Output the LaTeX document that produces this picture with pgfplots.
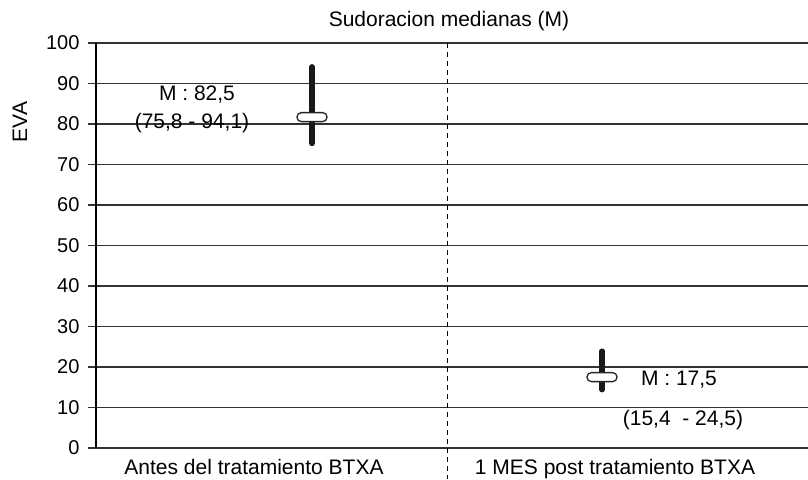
\documentclass[border=0pt]{standalone}
\usepackage{pgfplots}
\pgfplotsset{compat=1.18}
\usepackage{fontspec}
\setmainfont{Liberation Sans}
\begin{document}
\begin{tikzpicture}[font=\fontsize{21}{25}\selectfont]
\begin{axis}[
  at={(0,0)}, anchor=south west,
  scale only axis, width=712pt, height=405pt,
  xmin=0, xmax=712, ymin=0, ymax=100,
  axis y line*=left, axis x line*=bottom,
  x axis line style={draw=none},
  y axis line style={line width=1.3pt, black},
  ytick={0,10,...,100},
  ymajorgrids,
  grid style={draw=black!80, line width=1.2pt},
  tick align=outside,
  major tick length=8pt,
  y tick style={line width=1.2pt, black!80},
  yticklabel style={font=\fontsize{20}{24}\selectfont, xshift=-5pt},
  xtick={158,519},
  xticklabels={Antes del tratamiento BTXA, 1 MES post tratamiento BTXA},
  x tick style={draw=none},
  xticklabel style={anchor=base, yshift=-18pt},
  /pgf/number format/assume math mode=true,
  title={Sudoracion medianas (M)},
  title style={at={(axis description cs:0.4958,1)}, anchor=base, yshift=10pt},
  ylabel={EVA},
  ylabel style={at={(axis description cs:-0.1067,0.805)}, anchor=center},
  clip=false,
]
\addplot[line width=5.5pt, line cap=round, black!90] coordinates {(216,75.2) (216,94.1)};
\addplot[line width=5.5pt, line cap=round, black!90] coordinates {(506,14.4) (506,23.9)};
\addplot[only marks, mark=none,
  nodes near coords={},
  every node near coord/.style={anchor=center, draw=black!85, fill=white,
    line width=1.3pt, rounded corners=4.3pt, minimum width=30pt,
    minimum height=9pt, inner sep=0pt}]
  coordinates {(216,81.7) (506,17.5)};
\draw[dash pattern=on 5pt off 4pt, line width=1pt] (axis cs:351,100) -- (axis cs:351,-7.7);
\node at (axis cs:101,87.3) {M : 82,5};
\node at (axis cs:96,80.2) {(75,8 - 94,1)};
\node at (axis cs:583,17) {M : 17,5};
\node at (axis cs:587,6.9) {(15,4~ - 24,5)};
\end{axis}
\pgfresetboundingbox
\path[use as bounding box] (-96pt,-31pt) rectangle (712pt,448pt);
\end{tikzpicture}
\end{document}
